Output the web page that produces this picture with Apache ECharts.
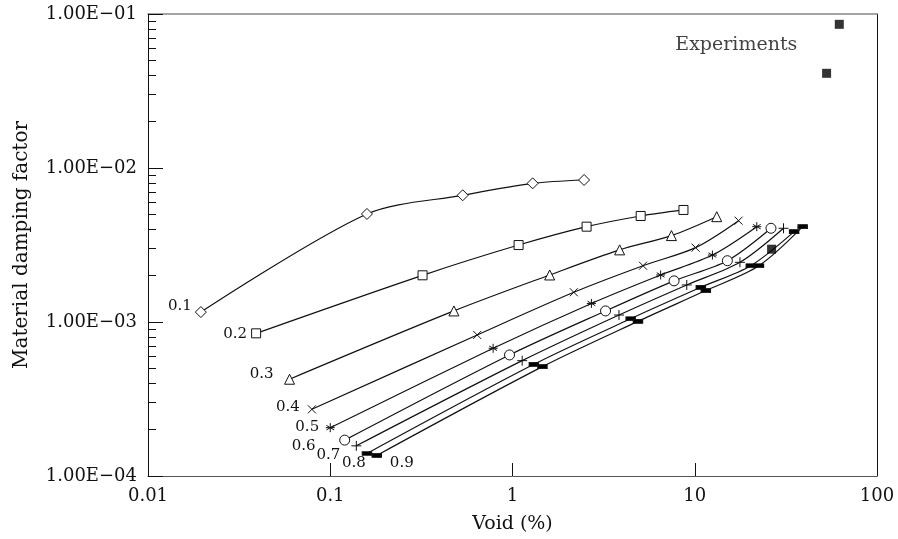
<!DOCTYPE html>
<html>
<head>
<meta charset="utf-8">
<script src="https://cdn.jsdelivr.net/npm/echarts@6/dist/echarts.min.js"></script>
<style>
  html, body { margin: 0; padding: 0; background: #fff; }
  #chart { width: 898px; height: 539px; }
</style>
</head>
<body>
<div id="chart"></div>
<script>
  // curve names (labels drawn next to the first point)
  var curveNames = ['0.1', '0.2', '0.3', '0.4', '0.5', '0.6', '0.7', '0.8', '0.9']

  // void (%) and material damping factor per curve
  var void01 = [0.0195, 0.159, 0.533, 1.29, 2.47]
  var damp01 = [0.00116, 0.00503, 0.00665, 0.00795, 0.00836]
  var void02 = [0.0392, 0.321, 1.08, 2.55, 5.05, 8.67]
  var damp02 = [0.000844, 0.00201, 0.00316, 0.00416, 0.00488, 0.00534]
  var void03 = [0.0598, 0.477, 1.60, 3.87, 7.45, 13.2]
  var damp03 = [0.000425, 0.00118, 0.00202, 0.00294, 0.00364, 0.00483]
  var void04 = [0.0793, 0.640, 2.17, 5.20, 10.1, 17.4]
  var damp04 = [0.000271, 0.000824, 0.00156, 0.00232, 0.00304, 0.00455]
  var void05 = [0.100, 0.783, 2.71, 6.50, 12.5, 21.9]
  var damp05 = [0.000206, 0.000675, 0.00132, 0.00202, 0.00272, 0.00416]
  var void06 = [0.120, 0.963, 3.24, 7.70, 15.1, 26.2]
  var damp06 = [0.000171, 0.000611, 0.00118, 0.00185, 0.00250, 0.00406]
  var void07 = [0.139, 1.13, 3.84, 9.04, 17.7, 30.7]
  var damp07 = [0.000157, 0.000561, 0.00111, 0.00174, 0.00244, 0.00406]
  var void08 = [0.159, 1.31, 4.45, 10.8, 20.3, 35.1]
  var damp08 = [0.000140, 0.000531, 0.00105, 0.00168, 0.00232, 0.00386]
  var void09 = [0.180, 1.46, 4.88, 11.5, 22.5, 39.1]
  var damp09 = [0.000136, 0.000513, 0.00101, 0.00160, 0.00232, 0.00416]

  // experiments
  var expVoid = [62.1, 52.9, 26.4]
  var expDamp = [0.0857, 0.0412, 0.00297]

  // tick labels
  var xTickLabels = ['0.01', '0.1', '1', '10', '100']
  var yTickLabels = ['1.00E\u221204', '1.00E\u221203', '1.00E\u221202', '1.00E\u221201']
  var yMinorTicks = [2e-4, 3e-4, 4e-4, 5e-4, 6e-4, 7e-4, 8e-4, 9e-4,
    2e-3, 3e-3, 4e-3, 5e-3, 6e-3, 7e-3, 8e-3, 9e-3,
    2e-2, 3e-2, 4e-2, 5e-2, 6e-2, 7e-2, 8e-2, 9e-2]

  var FONT = 'DejaVu Serif'
  var INK = '#111'

  var SYM_CROSS = 'path://M0,0L10,10M10,0L0,10'
  var SYM_PLUS = 'path://M5,0L5,10M0,5L10,5'
  var SYM_STAR = 'path://M5,0L5,10M0.7,2.5L9.3,7.5M9.3,2.5L0.7,7.5M0,5L10,5'

  function makeCurve (name, xs, ys, symbol, size, fill, offset) {
    var data = xs.map(function (x, i) {
      var item = { value: [x, ys[i]] }
      if (i === 0) {
        item.label = {
          show: true,
          formatter: name,
          position: 'inside',
          offset: offset,
          color: INK,
          fontFamily: FONT,
          fontSize: 15
        }
      }
      return item
    })
    return {
      name: name,
      type: 'line',
      smooth: 0.3,
      data: data,
      symbol: symbol,
      symbolSize: size,
      showAllSymbol: true,
      lineStyle: { color: INK, width: 1.2 },
      itemStyle: { color: fill, borderColor: INK, borderWidth: 1 },
      emphasis: { disabled: true },
      z: 3
    }
  }

  var series = [
    makeCurve(curveNames[0], void01, damp01, 'diamond', 11, '#fff', [-21, -6]),
    makeCurve(curveNames[1], void02, damp02, 'rect', 9, '#fff', [-21, 1]),
    makeCurve(curveNames[2], void03, damp03, 'triangle', 10, '#fff', [-28, -5]),
    makeCurve(curveNames[3], void04, damp04, SYM_CROSS, 8, '#fff', [-24, -2]),
    makeCurve(curveNames[4], void05, damp05, SYM_STAR, 9, '#fff', [-23, -1]),
    makeCurve(curveNames[5], void06, damp06, 'circle', 10, '#fff', [-41, 6]),
    makeCurve(curveNames[6], void07, damp07, SYM_PLUS, 10, '#fff', [-28, 9]),
    makeCurve(curveNames[7], void08, damp08, 'rect', [9, 4], '#000', [-13, 10]),
    makeCurve(curveNames[8], void09, damp09, 'rect', [9, 4], '#000', [25, 8]),
    {
      name: 'Experiments',
      type: 'scatter',
      symbol: 'rect',
      symbolSize: 9,
      itemStyle: { color: '#000' },
      emphasis: { disabled: true },
      data: expVoid.map(function (x, i) {
        var item = { value: [x, expDamp[i]] }
        if (i === 0) {
          item.label = {
            show: true,
            formatter: 'Experiments',
            position: 'inside',
            offset: [-103, 21],
            color: INK,
            fontFamily: FONT,
            fontSize: 19
          }
        }
        return item
      }),
      z: 4
    }
  ]

  var chart = echarts.init(document.getElementById('chart'))
  var option = {
    animation: false,
    backgroundColor: '#fff',
    grid: { left: 148, right: 21, top: 14, bottom: 63, containLabel: false, outerBoundsMode: 'none' },
    xAxis: [
      {
        type: 'log',
        logBase: 10,
        min: 0.01,
        max: 100,
        name: 'Void (%)',
        nameLocation: 'middle',
        nameGap: 39,
        nameTextStyle: { color: INK, fontFamily: FONT, fontSize: 19 },
        axisLine: { lineStyle: { color: '#555', width: 1 } },
        axisTick: { inside: true, length: 13, lineStyle: { color: INK } },
        splitLine: { show: false },
        axisLabel: {
          color: INK,
          fontFamily: FONT,
          fontSize: 18,
          margin: 11,
          formatter: function (v) {
            return xTickLabels[Math.round(Math.log10(v)) + 2]
          }
        }
      },
      {
        type: 'log',
        position: 'top',
        min: 0.01,
        max: 100,
        axisLine: { show: true, lineStyle: { color: '#888', width: 1.5 } },
        axisTick: { show: false },
        axisLabel: { show: false },
        splitLine: { show: false }
      }
    ],
    yAxis: [
      {
        type: 'log',
        logBase: 10,
        min: 0.0001,
        max: 0.1,
        name: 'Material damping factor',
        nameLocation: 'middle',
        nameGap: 116,
        nameTextStyle: { color: INK, fontFamily: FONT, fontSize: 20 },
        axisLine: { lineStyle: { color: INK, width: 1 } },
        axisTick: { inside: true, length: 15, lineStyle: { color: INK } },
        splitLine: { show: false },
        axisLabel: {
          color: INK,
          fontFamily: FONT,
          fontSize: 18,
          margin: 11,
          formatter: function (v) {
            return yTickLabels[Math.round(Math.log10(v)) + 4]
          }
        }
      },
      {
        type: 'log',
        position: 'left',
        min: 0.0001,
        max: 0.1,
        axisLine: { show: false },
        axisTick: { show: true, inside: true, length: 8, customValues: yMinorTicks, lineStyle: { color: INK } },
        axisLabel: { show: false },
        splitLine: { show: false }
      },
      {
        type: 'log',
        position: 'right',
        min: 0.0001,
        max: 0.1,
        axisLine: { show: true, lineStyle: { color: INK, width: 1 } },
        axisTick: { show: false },
        axisLabel: { show: false },
        splitLine: { show: false }
      }
    ],
    series: series
  }
  chart.setOption(option)
</script>
</body>
</html>
